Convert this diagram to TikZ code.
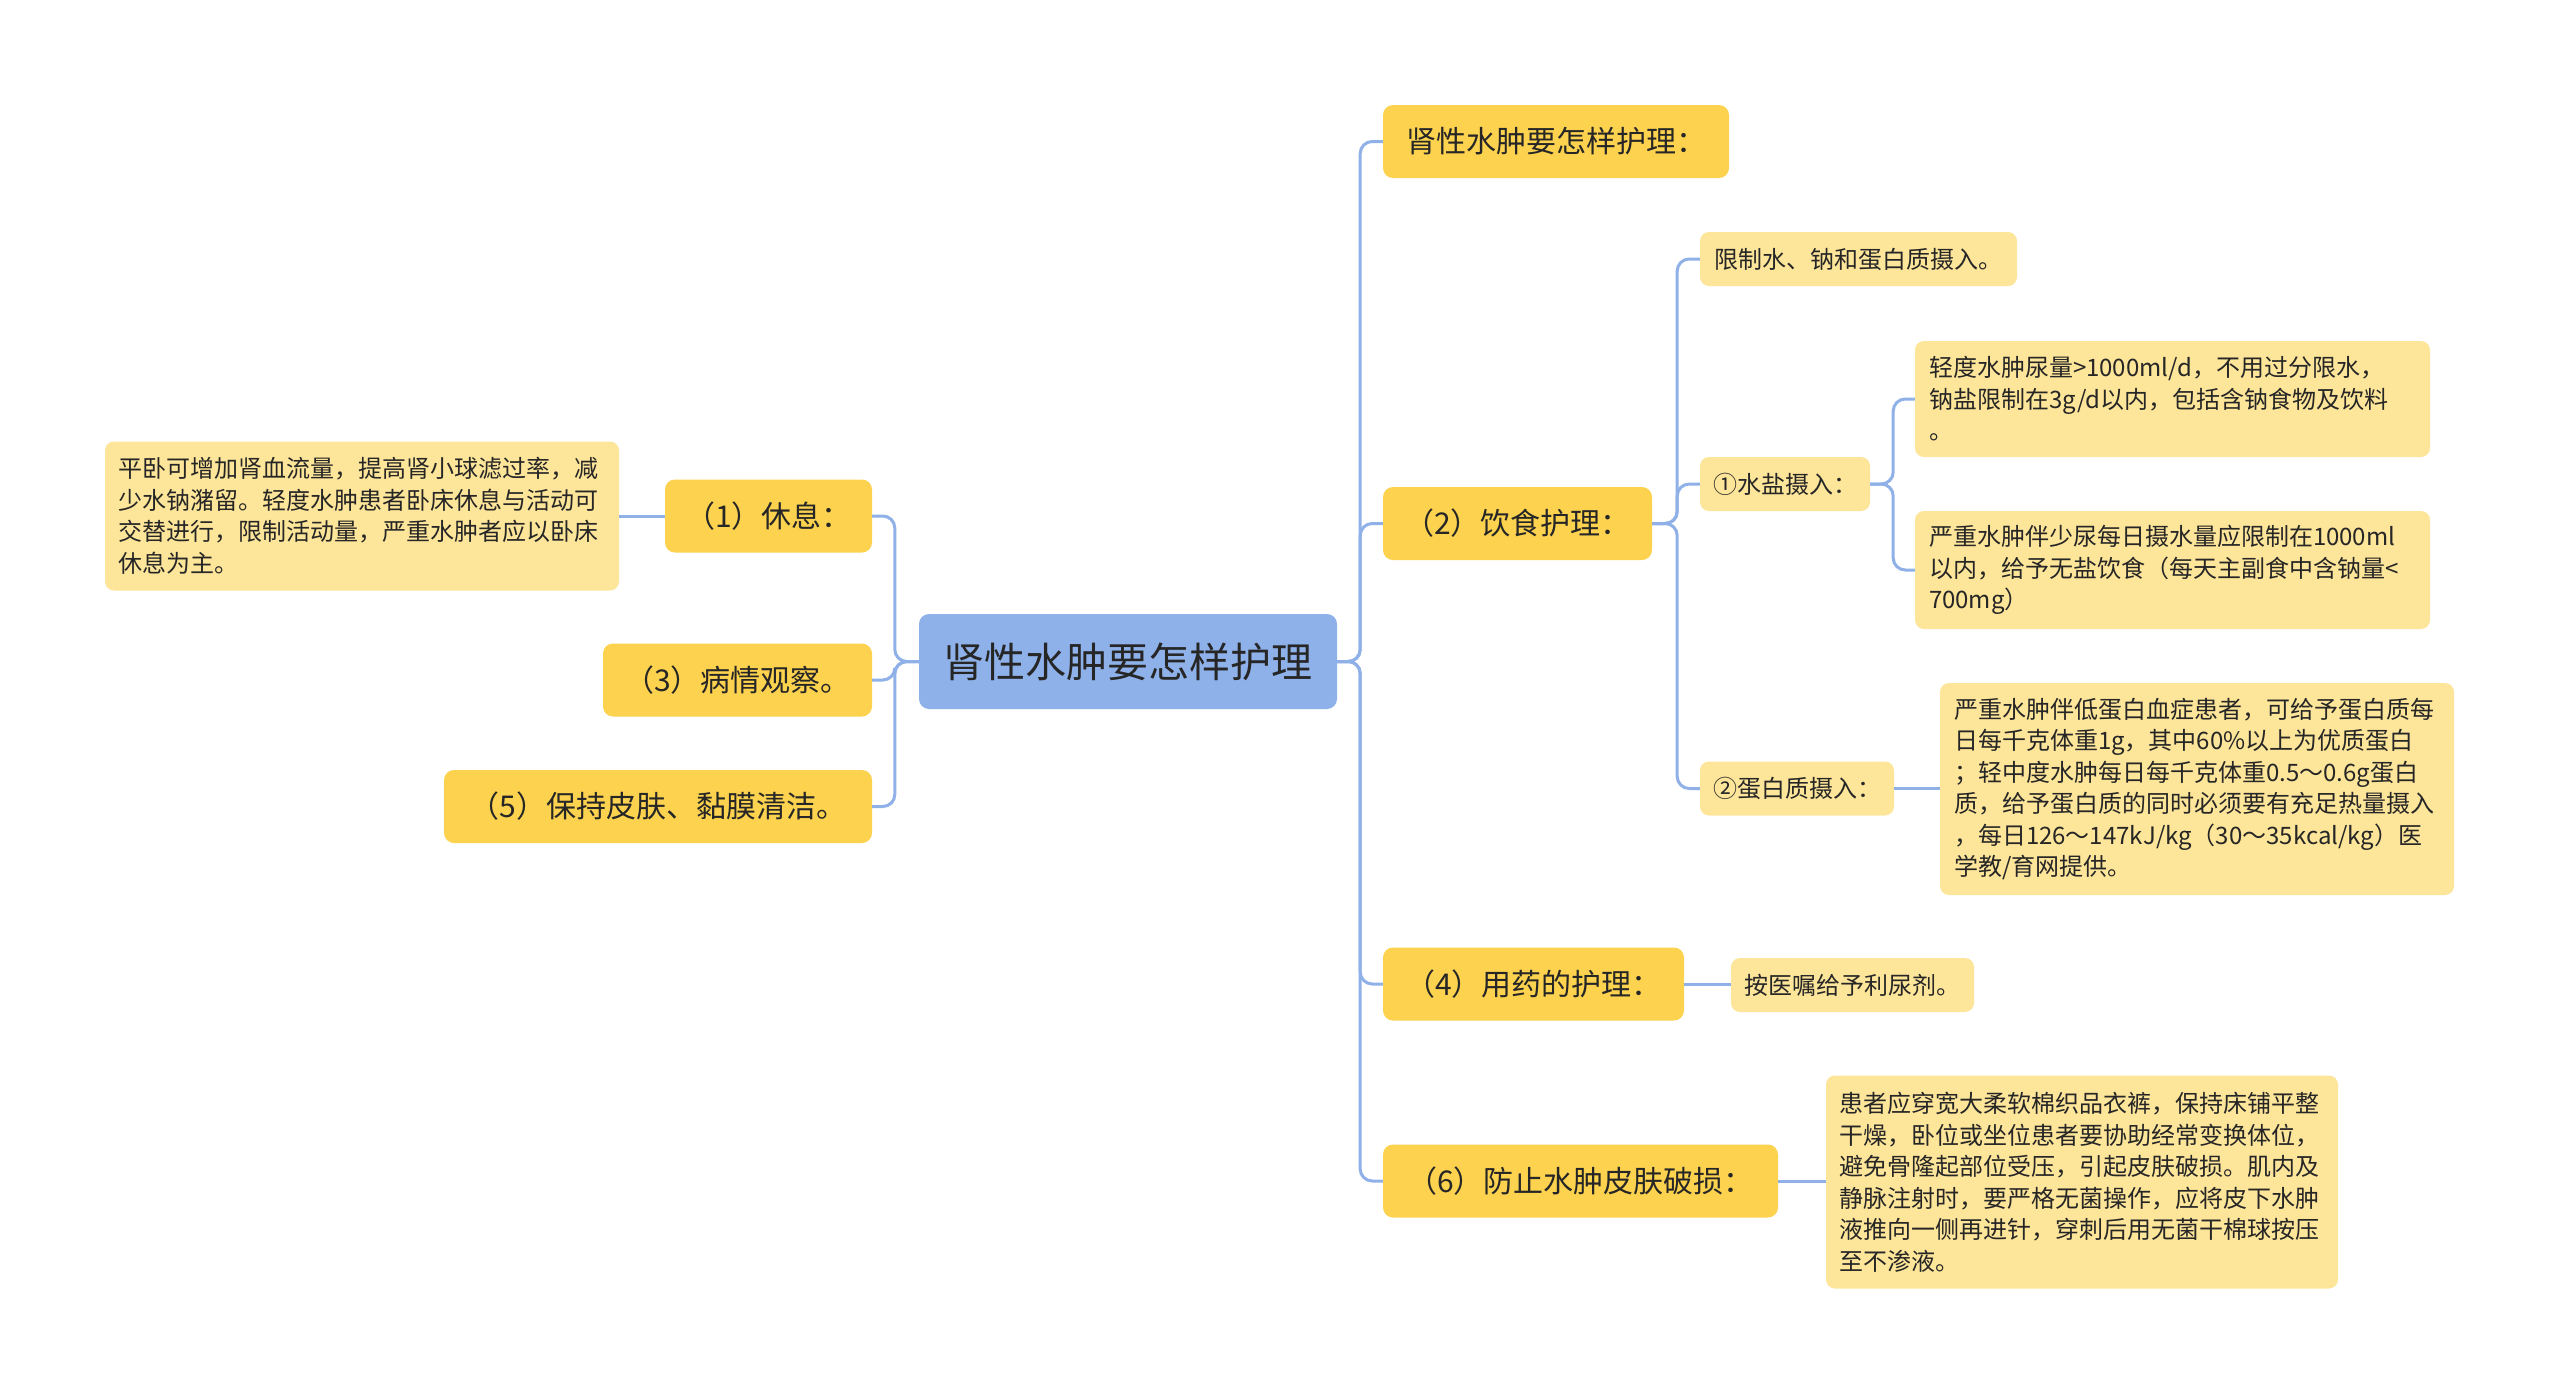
\documentclass[tikz,border=0pt]{standalone}
\usepackage{fontspec}
\setmainfont{Noto Sans CJK SC}
\definecolor{cblue}{HTML}{8FB1EA}
\definecolor{cline}{HTML}{8FB1E8}
\definecolor{cyel}{HTML}{FCD24F}
\definecolor{clight}{HTML}{FDE59A}
\definecolor{ctext}{HTML}{262626}
\begin{document}
\begin{tikzpicture}[x=1pt,y=-1pt,
 rootbox/.style={fill=cblue, rounded corners=10pt, text=ctext, font=\fontsize{41pt}{50pt}\selectfont, inner sep=0pt, minimum width=418pt, minimum height=95pt},
 topicbox/.style={fill=cyel, rounded corners=10pt, text=ctext, font=\fontsize{30pt}{38pt}\selectfont, inner sep=0pt, minimum height=73pt},
 leafbox/.style={fill=clight, rounded corners=9pt, text=ctext, font=\fontsize{24pt}{31.5pt}\selectfont, inner sep=0pt, align=left, minimum height=54pt},
 conn/.style={draw=cline, line width=3pt, rounded corners=12pt}]
\fill[white] (0,0) rectangle (2560,1393);
\useasboundingbox (0,0) rectangle (2560,1393);

\node[rootbox] (root) at (1128,661.5) {肾性水肿要怎样护理};

\node[topicbox, minimum width=346pt] (t0) at (1556,141.5) {肾性水肿要怎样护理：};
\node[topicbox, minimum width=269pt] (t2) at (1517.5,523.5) {（2）饮食护理：};
\node[topicbox, minimum width=301pt] (t4) at (1533.5,984) {（4）用药的护理：};
\node[topicbox, minimum width=395pt] (t6) at (1580.5,1181) {（6）防止水肿皮肤破损：};
\node[topicbox, minimum width=207pt] (t1) at (768.5,516) {（1）休息：};
\node[topicbox, minimum width=269pt] (t3) at (737.5,680) {（3）病情观察。};
\node[topicbox, minimum width=428pt] (t5) at (658,806.5) {（5）保持皮肤、黏膜清洁。};

\node[leafbox, minimum width=514pt, text width=488pt, minimum height=149pt] (l1) at (362,516) {平卧可增加肾血流量，提高肾小球滤过率，减\\少水钠潴留。轻度水肿患者卧床休息与活动可\\交替进行，限制活动量，严重水肿者应以卧床\\休息为主。};

\node[leafbox, minimum width=317pt] (r1) at (1858.5,259) {限制水、钠和蛋白质摄入。};
\node[leafbox, minimum width=170pt] (r2) at (1785,484) {①水盐摄入：};
\node[leafbox, minimum width=515pt, text width=487pt, minimum height=116pt] (r3) at (2172.5,399) {轻度水肿尿量>1000ml/d，不用过分限水，\\钠盐限制在3g/d以内，包括含钠食物及饮料\\。};
\node[leafbox, minimum width=515pt, text width=487pt, minimum height=118pt] (r4) at (2172.5,570) {严重水肿伴少尿每日摄水量应限制在1000ml\\以内，给予无盐饮食（每天主副食中含钠量<\\700mg）};
\node[leafbox, minimum width=194pt] (r5) at (1797,788.5) {②蛋白质摄入：};
\node[leafbox, minimum width=514pt, text width=486pt, minimum height=212pt] (r6) at (2197,789) {严重水肿伴低蛋白血症患者，可给予蛋白质每\\日每千克体重1g，其中60\%以上为优质蛋白\\；轻中度水肿每日每千克体重0.5～0.6g蛋白\\质，给予蛋白质的同时必须要有充足热量摄入\\，每日126～147kJ/kg（30～35kcal/kg）医\\学教/育网提供。};
\node[leafbox, minimum width=243pt] (r7) at (1852.5,985) {按医嘱给予利尿剂。};
\node[leafbox, minimum width=512pt, text width=486pt, minimum height=213pt] (r8) at (2082,1182) {患者应穿宽大柔软棉织品衣裤，保持床铺平整\\干燥，卧位或坐位患者要协助经常变换体位，\\避免骨隆起部位受压，引起皮肤破损。肌内及\\静脉注射时，要严格无菌操作，应将皮下水肿\\液推向一侧再进针，穿刺后用无菌干棉球按压\\至不渗液。};

\draw[conn] (root.east) -- ++(23,0) |- (t0.west);
\draw[conn] (root.east) -- ++(23,0) |- (t2.west);
\draw[conn] (root.east) -- ++(23,0) |- (t4.west);
\draw[conn] (root.east) -- ++(23,0) |- (t6.west);
\draw[conn] (root.west) -- ++(-24,0) |- (t1.east);
\draw[conn] (root.west) -- ++(-24,0) |- (t3.east);
\draw[conn] (root.west) -- ++(-24,0) |- (t5.east);
\draw[conn] (t1.west) -- (t1.west -| l1.east);
\draw[conn] (t2.east) -- ++(25,0) |- (r1.west);
\draw[conn] (t2.east) -- ++(25,0) |- (r2.west);
\draw[conn] (t2.east) -- ++(25,0) |- (r5.west);
\draw[conn] (r2.east) -- ++(23,0) |- (r3.west);
\draw[conn] (r2.east) -- ++(23,0) |- (r4.west);
\draw[conn] (r5.east) -- (r5.east -| r6.west);
\draw[conn] (t4.east) -- (t4.east -| r7.west);
\draw[conn] (t6.east) -- (t6.east -| r8.west);
\end{tikzpicture}
\end{document}
